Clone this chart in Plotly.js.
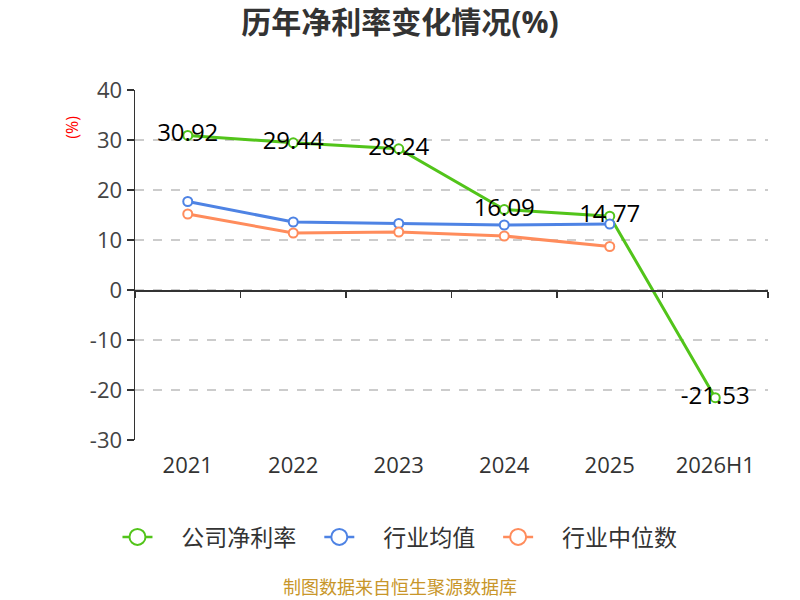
<!DOCTYPE html>
<html>
<head>
<meta charset="utf-8">
<script src="https://cdn.plot.ly/plotly-3.0.1.min.js"></script>
<style>
  html, body { margin: 0; padding: 0; background: #fff; }
  #plotdiv { width: 800px; height: 600px; }
</style>
</head>
<body>
<div id="plotdiv"></div>
<script>
'use strict'
/* global Plotly */

const years = ['2021', '2022', '2023', '2024', '2025', '2026H1']
const companyNet = [30.92, 29.44, 28.24, 16.09, 14.77, -21.53]
const industryAvg = [17.7, 13.6, 13.3, 13.0, 13.2, null]
const industryMid = [15.2, 11.4, 11.6, 10.8, 8.7, null]
const yTicks = [-30, -20, -10, 0, 10, 20, 30, 40]
const seriesNames = ['公司净利率', '行业均值', '行业中位数']
const seriesColors = ['#52c41a', '#4e83e4', '#ff8c5c']

const FONT = '"Open Sans", "Noto Sans CJK SC", sans-serif'
const NB = '\u00a0'  // padding so legend entries sit as far apart as the original

function lineTrace (i, y, withText) {
  let t = {
    x: years,
    y: y,
    name: seriesNames[i],
    type: 'scatter',
    mode: withText ? 'lines+markers+text' : 'lines+markers',
    line: {color: seriesColors[i], width: 3},
    marker: {symbol: 'circle', size: 9, color: '#fff', line: {color: seriesColors[i], width: 2}},
    cliponaxis: false,
    showlegend: false,
    hoverinfo: 'none'
  }
  if (withText) {
    t.text = y.map(v => v.toFixed(2))
    t.textposition = 'middle center'
    t.textfont = {family: FONT, size: 24, color: '#000'}
  }
  return t
}

// legend-only entries, so the legend circles can be drawn bigger than the data markers
function legendTrace (i) {
  let last = i === seriesNames.length - 1
  return {
    x: years,
    y: years.map(() => null),
    name: NB.repeat(4) + seriesNames[i] + (last ? '' : NB.repeat(3)),
    type: 'scatter',
    mode: 'lines+markers',
    line: {color: seriesColors[i], width: 2.5},
    marker: {symbol: 'circle', size: 16, color: '#fff', line: {color: seriesColors[i], width: 2}},
    hoverinfo: 'none'
  }
}

const plotdata = [
  lineTrace(0, companyNet, true),
  lineTrace(1, industryAvg, false),
  lineTrace(2, industryMid, false),
  legendTrace(0),
  legendTrace(1),
  legendTrace(2),
  // empty trace that keeps the zero axis (ticks between categories) alive
  {x: years, y: years.map(() => null), xaxis: 'x2', showlegend: false, hoverinfo: 'none', type: 'scatter', mode: 'lines'}
]

const layout = {
  width: 800,
  height: 600,
  margin: {l: 135, r: 32, t: 90, b: 160, autoexpand: false},
  paper_bgcolor: '#fff',
  plot_bgcolor: '#fff',
  font: {family: FONT, color: '#333'},
  title: {
    text: '<b>历年净利率变化情况(%)</b>',
    font: {family: FONT, size: 30, color: '#333'},
    x: 0.5, xanchor: 'center', y: 0.962, yanchor: 'middle'
  },
  showlegend: true,
  legend: {
    orientation: 'h', x: 0.4186, xanchor: 'center', y: -0.277, yanchor: 'middle',
    font: {family: FONT, size: 23, color: '#333'},
    traceorder: 'normal'
  },
  xaxis: {
    type: 'category',
    categoryorder: 'array',
    categoryarray: years,
    range: [-0.5, 5.5],
    showline: false,
    showgrid: false,
    zeroline: false,
    ticks: '',
    tickangle: 0,
    tickfont: {family: FONT, size: 22, color: '#333'},
    ticklabelstandoff: 10
  },
  xaxis2: {
    type: 'category',
    overlaying: 'x',
    matches: 'x',
    anchor: 'free',
    position: 30 / 70,
    range: [-0.5, 5.5],
    showline: true,
    linecolor: '#333',
    linewidth: 1.5,
    ticks: 'outside',
    tickson: 'boundaries',
    ticklen: 6,
    tickcolor: '#333',
    tickwidth: 1.5,
    showticklabels: false,
    showgrid: false,
    zeroline: false
  },
  yaxis: {
    range: [-30, 40],
    tickvals: yTicks,
    ticktext: yTicks.map(String),
    showline: true,
    linecolor: '#333',
    linewidth: 1.5,
    ticks: 'outside',
    ticklen: 7,
    tickcolor: '#333',
    tickwidth: 1.5,
    showgrid: true,
    gridcolor: '#cccccc',
    griddash: 'dash',
    gridwidth: 1.2,
    zeroline: false,
    tickfont: {family: FONT, size: 22, color: '#444'}
  },
  annotations: [
    {
      text: '(%)', textangle: -90,
      xref: 'paper', yref: 'paper', x: -0.1, y: 0.894, xanchor: 'center', yanchor: 'middle',
      showarrow: false, font: {family: FONT, size: 16, color: '#ff0000'}
    },
    {
      text: '制图数据来自恒生聚源数据库',
      xref: 'paper', yref: 'paper', x: 0.4186, y: -0.42, xanchor: 'center', yanchor: 'middle',
      showarrow: false, font: {family: FONT, size: 18, color: '#c8962a'}
    }
  ]
}

const config = {displaylogo: false, displayModeBar: false, staticPlot: true}

Plotly.newPlot('plotdiv', plotdata, layout, config)
</script>
</body>
</html>
